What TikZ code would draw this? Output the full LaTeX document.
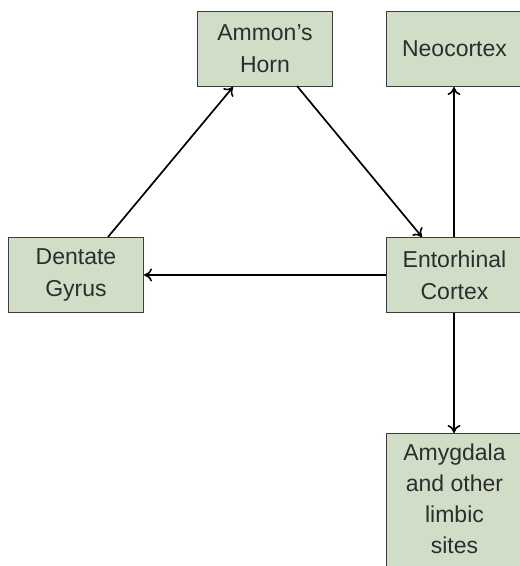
\documentclass[tikz,border=0pt]{standalone}
\usepackage{fontspec}
\setmainfont{Liberation Sans}
\usetikzlibrary{arrows.meta}
\definecolor{boxfill}{RGB}{208,222,200}
\definecolor{boxline}{RGB}{60,60,60}
\definecolor{txtcol}{RGB}{45,45,45}
\tikzset{
  box/.style={draw=boxline, line width=1pt, fill=boxfill, minimum width=135, minimum height=75,
    inner sep=0pt, align=center, text=txtcol, font=\fontsize{23}{32}\selectfont},
  conn/.style={line width=1.7pt, -{To[length=8pt,width=13pt,line width=1.6pt]}},
}
\begin{document}
\begin{tikzpicture}[x=1pt,y=-1pt]
\useasboundingbox (0,0) rectangle (520,566);
\clip (0,0) rectangle (520,566);
\fill[white] (0,0) rectangle (520,566);
\node[box, anchor=north west] (ammon) at (197,11) {Ammon’s\\Horn};
\node[box, anchor=north west, minimum width=136] (neo) at (386,11) {Neocortex};
\node[box, anchor=north west] (dent) at (8,237) {Dentate\\Gyrus};
\node[box, anchor=north west, minimum width=136] (ento) at (386,237) {Entorhinal\\Cortex};
\node[box, anchor=north west, minimum width=136, minimum height=150,
  label={[align=center, text=txtcol, font=\fontsize{23}{31}\selectfont, yshift=10pt]center:Amygdala\\and other\\limbic\\sites}] (amy) at (386,433) {};
\coordinate (d1) at (108,237);
\coordinate (a1) at (233,87);
\coordinate (a2) at (297,86);
\coordinate (e1) at (422,237);
\draw[conn] (d1) -- (a1);
\draw[conn] (a2) -- (e1);
\draw[conn] (ento.west |- 0,275) -- (dent.east |- 0,275);
\draw[conn] (ento.north -| 454,0) -- (neo.south -| 454,0);
\draw[conn] (ento.south -| 454,0) -- (amy.north -| 454,0);
\end{tikzpicture}
\end{document}
